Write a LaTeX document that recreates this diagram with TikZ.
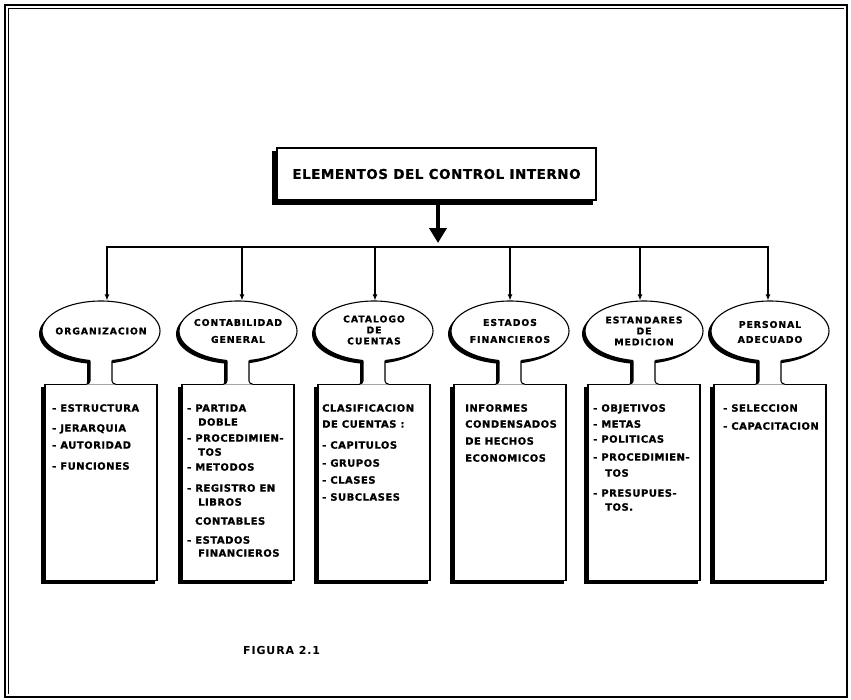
\documentclass[tikz,border=0pt]{standalone}
\usepackage{fontspec}
\setmainfont{DejaVu Sans}
\newfontfamily\ttlfont[LetterSpace=4,FakeBold=1]{DejaVu Sans}
\newfontfamily\ellfont[LetterSpace=10,FakeBold=1]{DejaVu Sans}
\newfontfamily\boxfont[LetterSpace=5,FakeBold=1]{DejaVu Sans}
\newfontfamily\figfont[LetterSpace=8]{DejaVu Sans}
\usetikzlibrary{arrows.meta,shapes.geometric}
\pgfdeclarelayer{back}
\pgfdeclarelayer{bg}
\pgfsetlayers{back,bg,main}
\tikzset{
  titlebox/.style={rectangle, draw, fill=white, line width=1.1pt, minimum width=319pt, minimum height=52pt, inner sep=0pt,
    font=\ttlfont\bfseries\fontsize{13.5}{16}\selectfont},
  ell/.style={ellipse, draw, fill=white, line width=1.1pt, minimum width=118pt, minimum height=60pt, inner sep=0pt},
  colbox/.style={rectangle, draw, fill=white, line width=1.1pt, minimum width=112pt, minimum height=196pt, inner sep=0pt, anchor=north},
  etxt/.style={font=\ellfont\bfseries\fontsize{9.3}{11}\selectfont, align=center, inner sep=0pt},
  lbl/.style={font=\boxfont\bfseries\fontsize{10}{12}\selectfont, anchor=west, inner sep=0pt, text height=7.3pt, text depth=0pt},
  figlbl/.style={font=\figfont\bfseries\fontsize{11}{13}\selectfont, anchor=west, inner sep=0pt, text height=8pt, text depth=0pt},
  shad/.style={fill=black},
  busline/.style={line width=1.5pt, line cap=rect},
  downarrow/.style={line width=1.5pt, -{Latex[length=6pt,width=5pt]}},
  bigarrow/.style={line width=4.5pt, -{Triangle[length=15pt,width=17pt]}},
  stemside/.style={line width=1.1pt},
}
\begin{document}
\begin{tikzpicture}[x=1pt,y=-1pt]
\useasboundingbox (0,0) rectangle (851,699);
\begin{pgfonlayer}{back}
  \fill[white] (0,0) rectangle (851,699);
\end{pgfonlayer}
% frame
\draw[line width=1.3pt] (5,5) rectangle (847,697);
\draw[line width=0.7pt] (8.5,694) -- (8.5,8.5) -- (844,8.5);

% title
\node[titlebox] (title) at (436.5,174) {ELEMENTOS DEL CONTROL INTERNO};
\coordinate (hub) at (438,247);
\draw[bigarrow, shorten >=4pt] (title.south -| hub) -- (hub);

% columns
\foreach \c/\a/\i in {101/107/1, 238/242/2, 374/375/3, 510/510/4, 644/640/5, 770/768/6}{
  \node[ell] (e\i) at (\c,331) {};
  \node[colbox] (b\i) at (\c,384) {};
  \coordinate (a\i) at (\a,247);
}
% stems
\foreach \c in {101,238,374,510,644,770}{
  \fill[white] (\c-11,352) -- (\c-11,381) to[out=270,in=0] (\c-14.5,384.6) -- (\c+14.5,384.6) to[out=180,in=270] (\c+11,381) -- (\c+11,352) -- cycle;
  \draw[stemside] (\c-11,360.5) -- (\c-11,381) to[out=270,in=0] (\c-14.5,384);
  \draw[stemside] (\c+11,360.5) -- (\c+11,381) to[out=270,in=180] (\c+14.5,384);
}
% shadows
\begin{pgfonlayer}{bg}
  \fill[shad] ([shift={(-4,4)}]title.north west) rectangle ([shift={(-4,4)}]title.south east);
  \foreach \c/\i in {101/1, 238/2, 374/3, 510/4, 644/5, 770/6}{
    \fill[shad] ([shift={(-3,3)}]e\i.center) ellipse [x radius=59pt, y radius=30pt];
    \fill[shad] ([shift={(-3,3)}]b\i.north west) rectangle ([shift={(-3,3)}]b\i.south east);
    \fill[shad] (\c-14,355) rectangle (\c+8,387);
  }
\end{pgfonlayer}

% bus and arrows
\draw[busline] (a1) -- (a6);
\foreach \i in {1,...,6}{
  \draw[downarrow] (a\i) -- (a\i |- e\i.north);
}

% ellipse texts
\node[etxt] (t1) at (e1) {ORGANIZACION};
\node[etxt] (t2) at (e2) {CONTABILIDAD\\[6pt]GENERAL};
\node[etxt] (t3) at ([yshift=1]e3.center) {CATALOGO\\DE\\CUENTAS};
\node[etxt] (t4) at (e4) {ESTADOS\\[6pt]FINANCIEROS};
\node[etxt] (t5) at ([yshift=0]e5.center) {ESTANDARES\\DE\\MEDICION};
\node[etxt] (t6) at ([yshift=-1]e6.center) {PERSONAL\\[4pt]ADECUADO};

% box texts
\foreach \x/\y/\t [count=\k] in {52/408/- ESTRUCTURA, 52/428/- JERARQUIA, 52/445/- AUTORIDAD, 52/466/- FUNCIONES}
  {\node[lbl] (p1-\k) at (\x,\y) {\t};}
\foreach \x/\y/\t [count=\k] in {187/408/- PARTIDA, 198/422/DOBLE, 187/438/- PROCEDIMIEN-, 198/452/TOS, 187/467/- METODOS, 187/488/- REGISTRO EN, 198/502/LIBROS, 195/521/CONTABLES, 187/540/- ESTADOS, 198/553/FINANCIEROS}
  {\node[lbl] (p2-\k) at (\x,\y) {\t};}
\foreach \x/\y/\t [count=\k] in {322/408/CLASIFICACION, 322/424/DE CUENTAS :, 322/445/- CAPITULOS, 322/463/- GRUPOS, 322/480/- CLASES, 322/497/- SUBCLASES}
  {\node[lbl] (p3-\k) at (\x,\y) {\t};}
\foreach \x/\y/\t [count=\k] in {465/408/INFORMES, 465/424/CONDENSADOS, 465/441/DE HECHOS, 465/458/ECONOMICOS}
  {\node[lbl] (p4-\k) at (\x,\y) {\t};}
\foreach \x/\y/\t [count=\k] in {593/408/- OBJETIVOS, 593/424/- METAS, 593/439/- POLITICAS, 593/457/- PROCEDIMIEN-, 605/473/TOS, 593/493/- PRESUPUES-, 605/507/TOS.}
  {\node[lbl] (p5-\k) at (\x,\y) {\t};}
\foreach \x/\y/\t [count=\k] in {723/408/- SELECCION, 723/426/- CAPACITACION}
  {\node[lbl] (p6-\k) at (\x,\y) {\t};}

\node[figlbl] (fig) at (243,650) {FIGURA 2.1};
\end{tikzpicture}
\end{document}
